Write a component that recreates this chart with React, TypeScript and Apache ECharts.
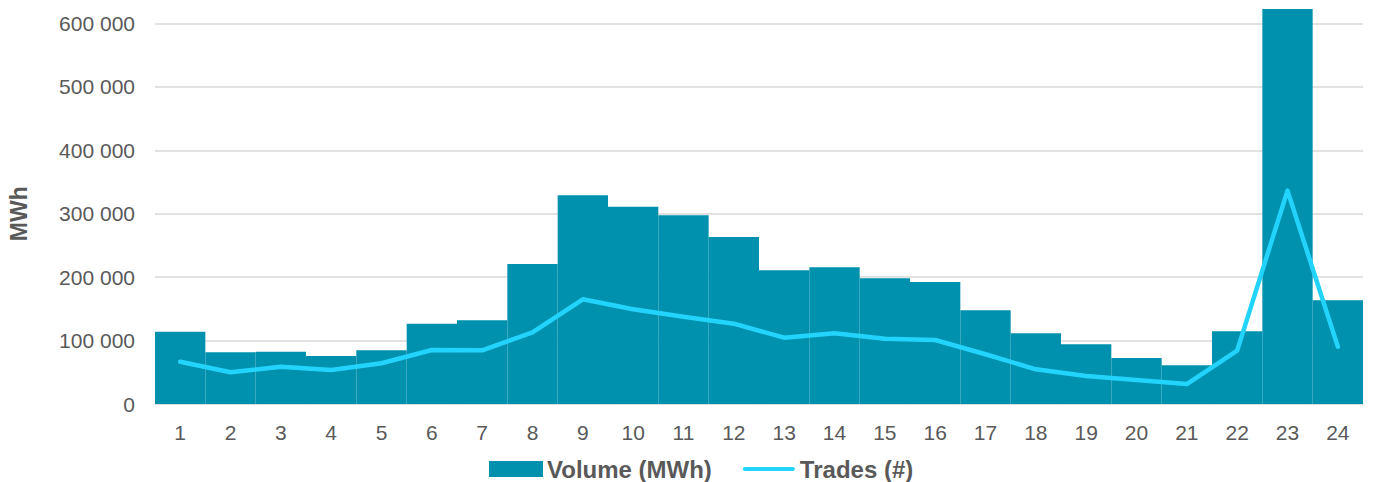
import React, { useEffect, useRef } from "react";
import * as echarts from "echarts";

const hours = ["1","2","3","4","5","6","7","8","9","10","11","12","13","14","15","16","17","18","19","20","21","22","23","24"];
const volume = [114000, 81500, 82500, 75700, 84700, 126700, 132000, 220800, 329000, 311200, 297600, 263400, 210800, 215600, 198200, 192400, 147800, 111500, 94200, 72600, 61000, 114600, 623000, 163500];
const trades = [66700, 50000, 58800, 53600, 64200, 85200, 84700, 113000, 165100, 149400, 137700, 126700, 104600, 111500, 103000, 100900, 78400, 54700, 44200, 37900, 31500, 84100, 336400, 90400];

const lineIcon = "path://M0,0 L0.01,0 M52,14 L51.99,14 M2,5 L50,5 A2,2 0 0 1 50,9 L2,9 A2,2 0 0 1 2,5 Z";

export default function App() {
  const ref = useRef<HTMLDivElement>(null);
  useEffect(() => {
    if (!ref.current) return;
    const chart = echarts.init(ref.current, null, { renderer: "svg" });
    const font = "'Liberation Sans', Arial, sans-serif";
    chart.setOption({
      animation: false,
      textStyle: { fontFamily: font },
      grid: { left: 155, right: 10, top: 23.5, bottom: 78, outerBoundsMode: "none" },
      legend: {
        left: 487,
        top: 455,
        padding: 2,
        itemWidth: 52,
        itemHeight: 14,
        itemGap: 31,
        textStyle: { fontSize: 24, fontWeight: "bold", color: "#595959", fontFamily: font, lineHeight: 24 },
        data: [
          { name: "Volume (MWh)", icon: "rect" },
          { name: "Trades (#)", icon: lineIcon, itemStyle: { color: "#22D4FC" } },
        ],
      },
      xAxis: {
        type: "category",
        data: hours,
        axisLine: { lineStyle: { color: "#d9d9d9", width: 1.5 } },
        axisTick: { show: false },
        axisLabel: { color: "#595959", fontSize: 21, margin: 18, fontFamily: font },
      },
      yAxis: {
        type: "value",
        min: 0,
        max: 600000,
        interval: 100000,
        name: "MWh",
        nameLocation: "middle",
        nameRotate: 90,
        nameGap: 125,
        nameTextStyle: { color: "#595959", fontSize: 23, fontWeight: "bold", fontFamily: font },
        axisLine: { show: false },
        axisTick: { show: false },
        splitLine: { lineStyle: { color: "#d9d9d9", width: 1.5 } },
        axisLabel: {
          color: "#595959",
          fontSize: 21,
          margin: 20,
          fontFamily: font,
          formatter: (v: number) => (v === 0 ? "0" : String(v / 1000) + " 000"),
        },
      },
      series: [
        {
          name: "Volume (MWh)",
          type: "bar",
          data: volume,
          barCategoryGap: "0%",
          clip: false,
          itemStyle: { color: "#0091AE", borderColor: "#0091AE", borderWidth: 1.4 },
          z: 2,
        },
        {
          name: "Trades (#)",
          type: "line",
          data: trades,
          symbol: "none",
          lineStyle: { color: "#22D4FC", width: 4.5, cap: "round", join: "round" },
          itemStyle: { color: "#22D4FC" },
          z: 3,
        },
      ],
    });
    return () => chart.dispose();
  }, []);
  return <div ref={ref} style={{ width: 1373, height: 482, position: "absolute", left: 0, top: 0 }} />;
}
